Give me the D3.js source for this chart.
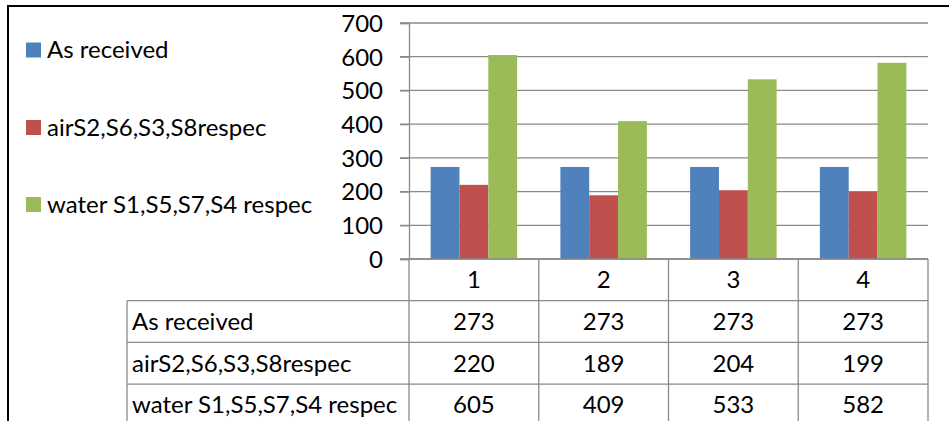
<!DOCTYPE html>
<html><head><meta charset="utf-8">
<script src="https://cdn.jsdelivr.net/npm/d3@7"></script>
<style>html,body{margin:0;padding:0;background:#fff;}svg{display:block;}</style>
</head><body>
<svg id="c" width="949" height="421"></svg>
<script>
const categories = ["1", "2", "3", "4"];
const seriesNames = ["As received", "airS2,S6,S3,S8respec", "water S1,S5,S7,S4 respec"];
const asReceived = [273, 273, 273, 273];
const air = [220, 189, 204, 199];
const water = [605, 409, 533, 582];
const yTicks = [0, 100, 200, 300, 400, 500, 600, 700];
const colors = ["#4F81BD", "#C0504D", "#9BBB59"];
const seriesValues = [asReceived, air, water];

(function(){
const svg = d3.select("#c");
const FONT = "Lato, 'Open Sans', sans-serif";
const FS = 24;
const gridColor = "#8a8a8a";

// outer frame
svg.append("path").attr("d", "M8,430 L8,6 L960,6").attr("fill","none").attr("stroke","#000").attr("stroke-width",2);

const pLeft = 409, pRight = 928, pTop = 23, zeroY = 259;
const x0 = d3.scaleBand().domain(categories).range([pLeft, pRight]).paddingInner(0).paddingOuter(0);
const x1 = d3.scaleBand().domain(seriesNames).range([0, x0.bandwidth()]).paddingInner(0).paddingOuter(0.75);
const y = d3.scaleLinear().domain([0, 700]).range([zeroY, pTop]);

// gridlines
svg.append("g").selectAll("line").data(yTicks).join("line")
  .attr("x1", pLeft - 9).attr("x2", pRight)
  .attr("y1", d => y(d)).attr("y2", d => y(d))
  .attr("stroke", gridColor).attr("stroke-width", 1.3);

// y axis
const yAxis = d3.axisLeft(y).tickValues(yTicks).tickSize(9).tickPadding(17);
const ga = svg.append("g").attr("transform", `translate(${pLeft},0)`).call(yAxis);
ga.select(".domain").attr("stroke", gridColor).attr("stroke-width", 1.3);
ga.selectAll(".tick line").attr("stroke", gridColor).attr("stroke-width", 1.3);
ga.selectAll(".tick text").attr("font-family", FONT).attr("font-size", FS).attr("fill", "#000").attr("dy", "0.35em");

// bars
seriesValues.forEach((vals, si) => {
  svg.append("g").selectAll("rect").data(vals).join("rect")
    .attr("x", (d, i) => x0(categories[i]) + x1(seriesNames[si]))
    .attr("width", x1.bandwidth())
    .attr("y", d => y(d))
    .attr("height", d => zeroY - y(d))
    .attr("fill", colors[si]);
});

// data table
const rowH = 41.7;
const tableLeft = 127;
const rowTops = [zeroY, zeroY + rowH, zeroY + 2*rowH, zeroY + 3*rowH, zeroY + 4*rowH];
const tg = svg.append("g");
tg.append("line").attr("x1", pLeft).attr("x2", pRight).attr("y1", zeroY).attr("y2", zeroY).attr("stroke", gridColor).attr("stroke-width", 1.3);
[1,2,3].forEach(k => {
  tg.append("line").attr("x1", tableLeft).attr("x2", pRight).attr("y1", rowTops[k]).attr("y2", rowTops[k]).attr("stroke", gridColor).attr("stroke-width", 1.3);
});
categories.forEach(c => {
  tg.append("line").attr("x1", x0(c)).attr("x2", x0(c)).attr("y1", zeroY).attr("y2", 430).attr("stroke", gridColor).attr("stroke-width", 1.3);
});
tg.append("line").attr("x1", pRight).attr("x2", pRight).attr("y1", zeroY).attr("y2", 430).attr("stroke", gridColor).attr("stroke-width", 1.3);
tg.append("line").attr("x1", tableLeft).attr("x2", tableLeft).attr("y1", rowTops[1]).attr("y2", 430).attr("stroke", gridColor).attr("stroke-width", 1.3);

tg.selectAll("text.cat").data(categories).join("text").attr("class","cat")
  .attr("x", d => x0(d) + x0.bandwidth()/2).attr("y", (rowTops[0]+rowTops[1])/2)
  .attr("dy", "0.35em").attr("text-anchor", "middle")
  .attr("font-family", FONT).attr("font-size", FS).text(d => d);

seriesNames.forEach((name, si) => {
  const cy = (rowTops[si+1] + rowTops[si+2]) / 2;
  tg.append("text").attr("x", tableLeft + 5).attr("y", cy).attr("dy", "0.35em")
    .attr("font-family", FONT).attr("font-size", FS).text(name);
  tg.selectAll(null).data(seriesValues[si]).join("text")
    .attr("x", (d, i) => x0(categories[i]) + x0.bandwidth()/2).attr("y", cy)
    .attr("dy", "0.35em").attr("text-anchor", "middle")
    .attr("font-family", FONT).attr("font-size", FS).text(d => d);
});

// legend
const legendY = [50, 127.5, 204.5];
const lg = svg.append("g");
seriesNames.forEach((name, si) => {
  lg.append("rect").attr("x", 26).attr("y", legendY[si] - 7.5).attr("width", 15).attr("height", 15).attr("fill", colors[si]);
  lg.append("text").attr("x", 47).attr("y", legendY[si]).attr("dy", "0.35em")
    .attr("font-family", FONT).attr("font-size", FS).text(name);
});
})();
</script>
</body></html>
